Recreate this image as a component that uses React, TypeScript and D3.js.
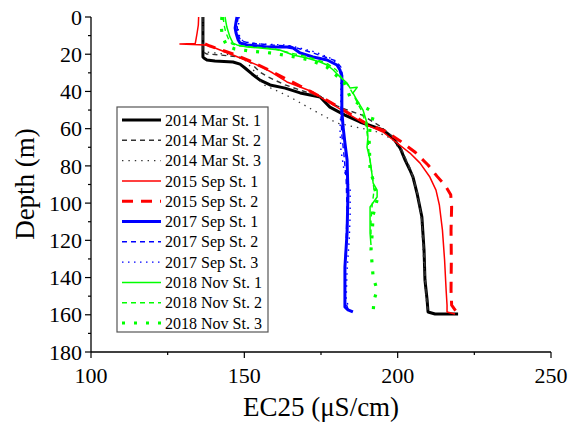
import React from "react";
import * as d3 from "d3";

type P = [number, number]; // [EC25, depth]

const xTicks = [100, 150, 200, 250];
const xMinor = [125, 175, 225];
const yTicks = [0, 20, 40, 60, 80, 100, 120, 140, 160, 180];
const yMinor = [10, 30, 50, 70, 90, 110, 130, 150, 170];

const mar14St1: P[] = [
  [136.5, 0], [136.5, 21.5], [136.8, 22], [137.8, 23.1], [140.4, 23.6], [146.3, 24.2], [148.6, 25.3],
  [150.2, 27.4], [152.5, 30.6], [155.1, 33.9], [158.4, 36.5], [163.3, 38.2], [168.2, 40.8], [174.7, 43],
  [177.9, 48.4], [182.8, 52.7], [187.7, 56.4], [195.2, 60.7], [198.5, 65], [200.8, 70.4], [202.4, 76.8],
  [204, 82.2], [205, 86], [206.3, 94.6], [207.9, 107.5], [208.6, 125.2], [208.9, 141.3], [209.6, 152],
  [209.9, 158.5], [212.2, 159.6], [219.7, 159.6],
];
const mar14St2: P[] = [
  [136.5, 0], [136.5, 18.8], [137.8, 19.9], [142.1, 20.4], [148.6, 21.5], [151.8, 24.2], [155.1, 29.6],
  [157.7, 32.2], [163.3, 36.5], [170.1, 40.3], [175.6, 43.5], [180.2, 47.8], [184.5, 50.5], [188.4, 52.7],
  [194.2, 58.6], [198.5, 64.5], [201.1, 70.4], [202.8, 76.8], [204.3, 82.2], [205.3, 87.6], [206.6, 95.6],
  [207.9, 109.1], [208.6, 125.2], [209.2, 146.7], [209.9, 157.4],
];
const mar14St3: P[] = [
  [136.5, 0], [136.5, 17.7], [137.5, 18.8], [140.4, 19.3], [146, 20.4], [150.2, 23.1], [153.5, 29.6],
  [155.8, 36], [160, 39.2], [164.9, 43], [172.4, 50], [180.2, 57], [186.1, 59.1], [192.6, 61.3],
  [198.2, 65.5], [200.8, 71.5], [202.8, 77.9], [204.3, 83.3], [206, 93], [207.6, 106.4], [208.3, 125.2],
  [208.9, 144], [209.6, 156.4],
];
const sep15St1: P[] = [
  [135.1, 0], [135.0, 4.3], [134.6, 8.6], [134.2, 12.4], [134.0, 14.2], [129, 14.5], [137.2, 15],
  [138.8, 15.6], [142.1, 17.7], [146.3, 20.4], [151.8, 24.2], [155.8, 26.9], [159.3, 30.1], [163.9, 34.9],
  [168.2, 37.6], [172.4, 40.3], [176.3, 44.6], [180.2, 48.4], [184.5, 52.7], [190, 58], [195.2, 61.8],
  [199.8, 67.7], [204, 73.1], [207.3, 78.5], [210.5, 86], [212.5, 93], [213.6, 101], [214.6, 114.5],
  [215.3, 130.6], [215.8, 146.7], [216.1, 154.8], [216.1, 158.5], [218.7, 159.6],
];
const sep15St2: P[] = [
  [137.2, 14.5], [138.8, 15.6], [146.3, 19.9], [151.8, 23.6], [159.3, 29.6], [168.2, 37.1], [176.3, 44.1],
  [184.5, 52.1], [190, 57.5], [195.9, 61.3], [200.8, 66.6], [205.6, 72.5], [209.9, 79.5], [212.8, 85.5],
  [215.5, 90.5], [217.3, 95.5], [217.6, 102], [217.4, 114.5], [217.5, 130.6], [217.4, 146.7], [217.6, 154.8],
  [219.7, 159.6],
];
const sep17St1: P[] = [
  [147.6, 0], [147.3, 2.7], [147, 5.9], [147.3, 8.6], [148, 12.4], [148.6, 14], [150.9, 15], [157.4, 16.1],
  [163.9, 16.1], [165.9, 16.7], [168.2, 19.3], [172.4, 21.5], [177, 23.1], [180.2, 25.8], [181.2, 28.5],
  [181.8, 32.2], [181.8, 40.8], [181.8, 50], [182.2, 59.1], [182.8, 67.7], [183.5, 76.8], [183.8, 94.6],
  [183.5, 116.1], [182.8, 134.3], [182.8, 155.8], [183.8, 157.4], [185.4, 158.5],
];
const sep17St2: P[] = [
  [148, 0], [147.6, 4.3], [148, 9.7], [148.9, 12.9], [151.8, 14], [158.4, 15], [164.9, 15.6], [168.2, 17.2],
  [172.4, 19.3], [176.3, 21.5], [179.9, 23.6], [181.5, 26.9], [182.2, 32.8], [181.8, 41.9], [181.5, 52.7],
  [181.8, 63.4], [182.5, 74.2], [183.2, 87.6], [183.5, 103.7], [183.2, 119.8], [182.8, 135.9], [182.8, 152.1],
  [183.8, 156.9],
];
const sep17St3: P[] = [
  [148.3, 0], [148, 7], [148.6, 11.3], [149.9, 13.4], [155.1, 14.5], [163.3, 15], [168.2, 16.7], [173, 18.8],
  [177.9, 22], [180.5, 25.3], [181.5, 29.6], [181.5, 39.2], [181.5, 50], [181.2, 60.7], [181.5, 71.5],
  [182.5, 82.2], [184.5, 93], [184.5, 106.4], [184.2, 119.8], [183.5, 135.9], [183.2, 152.1], [184.2, 156.4],
];
const nov18St1: P[] = [
  [143.7, 0], [144, 2.7], [144.3, 5.4], [145.3, 10.7], [146.3, 14], [147.6, 15], [150.9, 16.1], [155.1, 16.7],
  [161.6, 17.7], [165.9, 20.4], [170.4, 22], [174.7, 24.2], [177, 25.8], [179, 28.5], [181.2, 32.2],
  [183.5, 35.5], [184.5, 38.2], [186.8, 37.8], [185.4, 40.8], [186.7, 44.6], [188.7, 50], [190, 57],
  [190.3, 64.5], [190, 69.9], [191, 76.8], [192, 89.2], [193.3, 93], [193.3, 96.7], [191, 102.1],
  [191, 107.5], [191, 116.1], [191.3, 122.5],
];
const nov18St2: P[] = [
  [143.1, 0], [143.4, 4.3], [144, 8.6], [145, 12.4], [146, 14.5], [148.6, 15.6], [153.5, 16.1], [160, 17.2],
  [164.9, 19.3], [169.8, 21], [174.1, 23.1], [177.3, 25.3], [180, 28.5], [181.8, 32.8], [183.8, 36.5],
  [185.1, 40.3], [186.4, 44.6], [188.4, 51], [189.7, 58], [190.3, 66.1], [190.7, 74.2], [191.7, 84.9],
  [192.3, 93], [191.7, 101], [191.3, 109.1], [191.3, 117.1],
];
const nov18St3: P[] = [
  [142.7, 0], [142.4, 4.3], [142.7, 8.6], [143.4, 12.4], [144.3, 15.6], [146.9, 17.2], [151.8, 18.3],
  [158.4, 19.3], [164.9, 21], [171.4, 23.1], [176.9, 26.9], [178.9, 30.1], [180.6, 32.2], [182.2, 33.9],
  [184.5, 43], [187.7, 47.3], [191, 50], [192, 53.7], [191, 59.1], [190.7, 66.1], [191, 82.2], [192, 87.6],
  [193.3, 98.3], [192, 106.4], [191.7, 116.1], [191.3, 125.2], [192, 139.7], [193.3, 146.7], [192.3, 152.1],
  [192, 158.5],
];

const seriesNames = [
  "2014 Mar St. 1", "2014 Mar St. 2", "2014 Mar St. 3",
  "2015 Sep St. 1", "2015 Sep St. 2",
  "2017 Sep St. 1", "2017 Sep St. 2", "2017 Sep St. 3",
  "2018 Nov St. 1", "2018 Nov St. 2", "2018 Nov St. 3",
];
const seriesData: P[][] = [
  mar14St1, mar14St2, mar14St3, sep15St1, sep15St2, sep17St1, sep17St2, sep17St3, nov18St1, nov18St2, nov18St3,
];

type Sty = { color: string; width: number; dash?: string };
const styles: Sty[] = [
  { color: "#000000", width: 3 },
  { color: "#333333", width: 1.4, dash: "5,4" },
  { color: "#333333", width: 1.3, dash: "1.4,5" },
  { color: "#ff0000", width: 1.5 },
  { color: "#ff0000", width: 3, dash: "11,8" },
  { color: "#0000ff", width: 3 },
  { color: "#0000ff", width: 1.4, dash: "5,4" },
  { color: "#0000ff", width: 1.4, dash: "1.5,4.5" },
  { color: "#00ff00", width: 1.5 },
  { color: "#00ff00", width: 1.4, dash: "5,4" },
  { color: "#00ff00", width: 3.2, dash: "3,9" },
];

const W = 569;
const H = 425;
const FONT = '"Liberation Serif", "Times New Roman", "DejaVu Serif", serif';

export default function App() {
  const x = d3.scaleLinear().domain([100, 250]).range([91, 551]);
  const y = d3.scaleLinear().domain([0, 180]).range([17, 352]);
  const line = d3
    .line<P>()
    .x((d) => x(d[0]))
    .y((d) => y(d[1]));

  const lx = 117, ly = 107, lw = 151, lh = 225;
  const rowY = (i: number) => 120 + i * 20.3;
  const tStyle = { fontFamily: FONT };

  return (
    <svg
      width={W}
      height={H}
      style={{ position: "absolute", left: 0, top: 0, background: "#fff", fontFamily: FONT }}
    >
      <rect x={0} y={0} width={W} height={H} fill="#fff" />
      {seriesData.map((d, i) => (
        <path
          key={i}
          d={line(d) || ""}
          fill="none"
          stroke={styles[i].color}
          strokeWidth={styles[i].width}
          strokeDasharray={styles[i].dash}
          strokeLinejoin="round"
        />
      ))}
      <line x1={91} x2={91} y1={17} y2={352} stroke="#000" strokeWidth={1.3} />
      <line x1={91} x2={551} y1={352} y2={352} stroke="#000" strokeWidth={1.3} />
      {yTicks.map((t) => (
        <g key={"y" + t}>
          <line x1={85} x2={91} y1={y(t)} y2={y(t)} stroke="#000" strokeWidth={1.2} />
          <text x={82} y={y(t)} dy="0.35em" textAnchor="end" fontSize={22} fill="#000" style={tStyle}>
            {t}
          </text>
        </g>
      ))}
      {yMinor.map((t) => (
        <line key={"ym" + t} x1={88} x2={91} y1={y(t)} y2={y(t)} stroke="#000" strokeWidth={1.2} />
      ))}
      {xTicks.map((t) => (
        <g key={"x" + t}>
          <line x1={x(t)} x2={x(t)} y1={352} y2={358} stroke="#000" strokeWidth={1.2} />
          <text x={x(t)} y={383} textAnchor="middle" fontSize={22} fill="#000" style={tStyle}>
            {t}
          </text>
        </g>
      ))}
      {xMinor.map((t) => (
        <line key={"xm" + t} x1={x(t)} x2={x(t)} y1={352} y2={355} stroke="#000" strokeWidth={1.2} />
      ))}
      <text x={321} y={416} textAnchor="middle" fontSize={27} fill="#000" style={tStyle}>
        EC25 (μS/cm)
      </text>
      <text
        transform={`translate(34,184) rotate(-90)`}
        textAnchor="middle"
        fontSize={27}
        fill="#000"
        style={tStyle}
      >
        Depth (m)
      </text>
      <rect x={lx} y={ly} width={lw} height={lh} fill="#fff" stroke="#555" strokeWidth={1.2} />
      {seriesNames.map((n, i) => (
        <g key={"l" + i}>
          <line
            x1={122}
            x2={161}
            y1={rowY(i)}
            y2={rowY(i)}
            stroke={styles[i].color}
            strokeWidth={styles[i].width}
            strokeDasharray={styles[i].dash}
          />
          <text x={165} y={rowY(i)} dy="0.35em" fontSize={16} fill="#000" style={tStyle}>
            {n}
          </text>
        </g>
      ))}
    </svg>
  );
}
